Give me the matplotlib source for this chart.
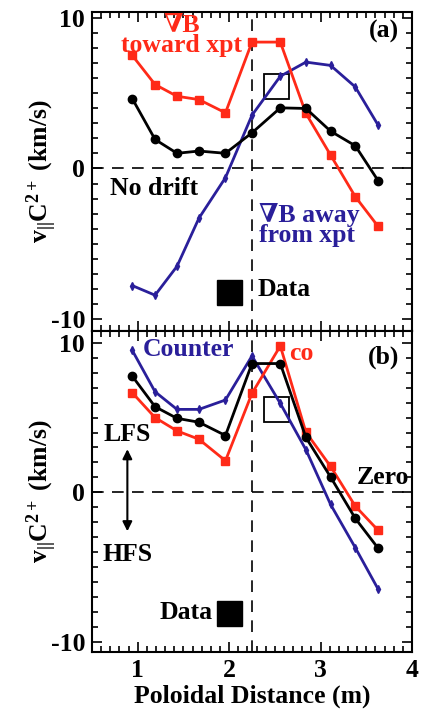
import matplotlib
matplotlib.use('Agg')
import matplotlib.pyplot as plt
from matplotlib.ticker import MultipleLocator

plt.rcParams['font.family'] = ['Liberation Serif', 'DejaVu Serif']
plt.rcParams['font.weight'] = 'bold'
plt.rcParams['axes.unicode_minus'] = False
plt.rcParams['mathtext.fontset'] = 'custom'
plt.rcParams['mathtext.rm'] = 'Liberation Serif:bold'
plt.rcParams['mathtext.it'] = 'Liberation Serif:bold'
plt.rcParams['mathtext.bf'] = 'Liberation Serif:bold'

# Distancia poloidal (m)
dist = [0.94, 1.19, 1.43, 1.67, 1.96, 2.25, 2.56, 2.84, 3.11, 3.38, 3.63]

# Panel (a)
no_drift = [4.65, 1.93, 1.01, 1.16, 1.01, 2.37, 4.03, 3.99, 2.48, 1.51, -0.81]
toward_xpt = [7.52, 5.58, 4.80, 4.58, 3.70, 8.40, 8.40, 3.66, 0.89, -1.87, -3.85]
away_xpt = [-7.78, -8.42, -6.50, -3.30, -0.61, 3.54, 6.13, 7.07, 6.85, 5.42, 2.88]

# Panel (b)
zero_rot = [7.78, 5.73, 4.95, 4.69, 3.80, 8.62, 8.62, 3.67, 1.02, -1.75, -3.75]
co_rot = [6.67, 5.00, 4.11, 3.55, 2.11, 6.62, 9.80, 4.02, 1.73, -0.93, -2.55]
counter_rot = [9.51, 6.73, 5.55, 5.55, 6.18, 9.13, 5.95, 2.85, -0.82, -3.71, -6.49]

# Medicion (cuadro abierto) y leyenda "Data"
meas_x = 2.51
meas_a = 5.46
meas_b = 5.6
data_x = 2.0
data_a = -8.2
data_b = -8.07

RED = '#ff2a18'
BLUE = '#2a1f9a'
FS = 18.5

fig = plt.figure(figsize=(4.21, 7.10), dpi=100)
ax1 = fig.add_axes([0.2185, 0.5338, 0.760, 0.4493])
ax2 = fig.add_axes([0.2185, 0.0817, 0.760, 0.4521])


def style(ax, ylim):
    ax.set_xlim(0.5, 4.0)
    ax.set_ylim(*ylim)
    ax.axhline(0, color='black', lw=1.2, ls=(0, (7, 5)), zorder=1)
    ax.axvline(2.25, color='black', lw=1.2, ls=(0, (7, 5)), zorder=1)
    ax.xaxis.set_major_locator(MultipleLocator(1))
    ax.xaxis.set_minor_locator(MultipleLocator(0.1))
    ax.yaxis.set_major_locator(MultipleLocator(10))
    ax.yaxis.set_minor_locator(MultipleLocator(1))
    ax.tick_params(which='both', direction='in', top=True, right=True,
                   labelsize=FS, width=1.2)
    ax.tick_params(which='major', length=7, pad=5)
    ax.tick_params(which='minor', length=4)
    for s in ax.spines.values():
        s.set_linewidth(1.5)
    ax.set_ylabel('v$_{||}$C$^{2+}$ (km/s)', fontsize=FS, fontweight='bold')
    ax.yaxis.set_label_coords(-0.103, 0.5)


style(ax1, (-10.8, 10.4))
style(ax2, (-10.7, 10.8))
ax1.tick_params(labelbottom=False)

# Panel (a)
ax1.plot(dist, away_xpt, color=BLUE, lw=2, marker='d', ms=4, zorder=3)
ax1.plot(dist, toward_xpt, color=RED, lw=2, marker='s', ms=6, zorder=4)
ax1.plot(dist, no_drift, color='black', lw=2, marker='o', ms=6, zorder=5)
ax1.plot(meas_x, meas_a, marker='s', ms=18, mfc='none', mec='black', mew=1.3)
ax1.plot(data_x, data_a, marker='s', ms=18, color='black')

ax1.text(1.48, 8.85, '∇B\ntoward xpt', color=RED, fontsize=FS, ha='center',
         va='center', linespacing=0.8)
ax1.text(0.96, 0.975, '(a)', transform=ax1.transAxes, fontsize=FS, ha='right',
         va='top')
ax1.text(0.70, -1.36, 'No drift', fontsize=FS, ha='left', va='center')
ax1.text(2.33, -3.75, '∇B away\nfrom xpt', color=BLUE, fontsize=FS,
         ha='left', va='center', linespacing=0.8)
ax1.text(2.31, -8.05, 'Data', fontsize=FS, ha='left', va='center')

# Panel (b)
ax2.plot(dist, counter_rot, color=BLUE, lw=2, marker='d', ms=4, zorder=3)
ax2.plot(dist, co_rot, color=RED, lw=2, marker='s', ms=6, zorder=4)
ax2.plot(dist, zero_rot, color='black', lw=2, marker='o', ms=6, zorder=5)
ax2.plot(meas_x, meas_b, marker='s', ms=18, mfc='none', mec='black', mew=1.3)
ax2.plot(data_x, data_b, marker='s', ms=18, color='black')

ax2.text(1.05, 9.57, 'Counter', color=BLUE, fontsize=FS, ha='left',
         va='center')
ax2.text(2.66, 9.27, 'co', color=RED, fontsize=FS, ha='left', va='center')
ax2.text(0.96, 0.955, '(b)', transform=ax2.transAxes, fontsize=FS, ha='right',
         va='top')
ax2.text(0.887, 3.9, 'LFS', fontsize=FS, ha='center', va='center')
ax2.text(0.887, -4.2, 'HFS', fontsize=FS, ha='center', va='center')
ax2.annotate('', xy=(0.887, 3.07), xytext=(0.887, -2.8),
             arrowprops=dict(arrowstyle='<|-|>', color='black', lw=1.5,
                             mutation_scale=14))
ax2.text(3.97, 1.0, 'Zero', fontsize=FS, ha='right', va='center')
ax2.text(1.82, -8.07, 'Data', fontsize=FS, ha='right', va='center')

ax2.set_xlabel('Poloidal Distance (m)', fontsize=FS, fontweight='bold',
               labelpad=2)

fig.savefig('out.png', dpi=100)
